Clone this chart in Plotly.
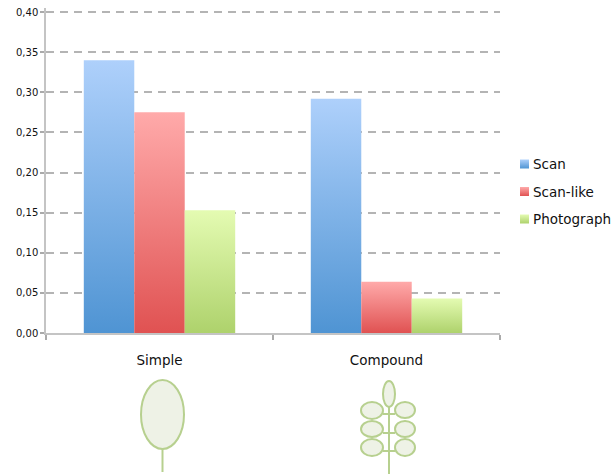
import plotly.graph_objects as go

categories = ["Simple", "Compound"]
scan = [0.340, 0.292]
scan_like = [0.275, 0.064]
photograph = [0.153, 0.043]
y_ticks = [0, 0.05, 0.10, 0.15, 0.20, 0.25, 0.30, 0.35, 0.40]

W, H = 611, 474
ML, MR, MT, MB = 46, 111, 8, 141
FONT = "DejaVu Sans"
LEAF_LINE = "#b7d08f"
LEAF_FILL = "#eef2e6"

fig = go.Figure()
for name, vals, col in [("Scan", scan, "#7fb0e6"), ("Scan-like", scan_like, "#f48080"),
                        ("Photograph", photograph, "#c8e68c")]:
    fig.add_bar(x=categories, y=vals, name=name, marker=dict(color=col, line=dict(width=0)))


def px(x):
    return (x - ML) / (W - ML - MR)


def py(y):
    return 1 - (y - MT) / (H - MT - MB)


def ell(x0, y0, x1, y1):
    return dict(type="circle", xref="paper", yref="paper", x0=px(x0), x1=px(x1), y0=py(y1), y1=py(y0),
                line=dict(color=LEAF_LINE, width=2), fillcolor=LEAF_FILL, layer="above")


def seg(x0, y0, x1, y1):
    return dict(type="line", xref="paper", yref="paper", x0=px(x0), x1=px(x1), y0=py(y0), y1=py(y1),
                line=dict(color=LEAF_LINE, width=2), layer="above")


shapes = [
    seg(162.5, 449, 162.5, 472), ell(141, 380, 184, 449),
    seg(389, 407, 389, 474),
    seg(383, 414, 395, 414), seg(383, 433, 395, 433), seg(383, 451, 395, 451),
    ell(383, 381, 395, 407),
    ell(361, 402, 383, 419), ell(361, 421, 383, 437), ell(361, 439, 383, 456),
    ell(395, 402, 415, 418), ell(395, 421, 415, 437), ell(395, 439, 415, 456),
]

fig.update_layout(
    width=W, height=H, autosize=False,
    margin=dict(l=ML, r=MR, t=MT, b=MB, pad=0, autoexpand=False),
    paper_bgcolor="white", plot_bgcolor="white",
    barmode="group", bargap=0.333, bargroupgap=0,
    separators=",.",
    font=dict(family=FONT, color="#111111", size=11),
    showlegend=True,
    legend=dict(x=0.4, xanchor="left", y=0.8, yanchor="top",
                font=dict(family=FONT, size=13.5, color="#111111"), bgcolor="rgba(0,0,0,0)",
                traceorder="normal"),
    shapes=shapes,
    xaxis=dict(type="category", tickson="boundaries", ticks="outside", ticklen=5, tickcolor="#aaaaaa",
               tickwidth=1.5, showline=True, linecolor="#c4c4c4", linewidth=1.5, showgrid=False,
               tickfont=dict(family=FONT, size=13.5, color="#111111"), ticklabelstandoff=14, zeroline=False),
    yaxis=dict(range=[0, 0.405], tickmode="array", tickvals=y_ticks, tickformat=".2f", ticks="outside", ticklen=4,
               tickcolor="#aaaaaa", tickwidth=1.5, showline=True, linecolor="#c4c4c4", linewidth=1.5,
               showgrid=True, gridcolor="#b4b4b4", gridwidth=1.5, griddash="8px,6px", zeroline=False,
               tickfont=dict(family=FONT, size=10, color="#111111")),
)

post = """
document.body.style.margin = '0';
document.body.style.overflow = 'hidden';
var gd = document.getElementById('{plot_id}');
var NS = 'http://www.w3.org/2000/svg';
var svg = gd.querySelector('.main-svg');
var defs = svg.querySelector('defs');
var stops = [['#aed0fb', '#4f94d3'], ['#ffaaaa', '#e05252'], ['#e4fbb2', '#aed26c']];
stops.forEach(function (s, i) {
  var g = document.createElementNS(NS, 'linearGradient');
  g.setAttribute('id', 'bargrad' + i);
  g.setAttribute('x1', '0'); g.setAttribute('y1', '0');
  g.setAttribute('x2', '0'); g.setAttribute('y2', '1');
  [[0, s[0]], [1, s[1]]].forEach(function (p) {
    var st = document.createElementNS(NS, 'stop');
    st.setAttribute('offset', p[0]); st.setAttribute('stop-color', p[1]);
    g.appendChild(st);
  });
  defs.appendChild(g);
});
gd.querySelectorAll('.barlayer .trace').forEach(function (t, i) {
  t.querySelectorAll('.point path').forEach(function (p) {
    p.style.setProperty('fill', 'url(#bargrad' + i + ')');
  });
});
var lg = gd.querySelector('.legend');
lg.setAttribute('transform', 'translate(504.5,149.5)');
var sb = gd.querySelector('.legend .scrollbox');
if (sb) sb.removeAttribute('clip-path');
lg.removeAttribute('clip-path');
gd.querySelectorAll('.legend .traces').forEach(function (t, i) {
  t.setAttribute('transform', 'translate(0,' + (14.5 + i * 27.5) + ')');
  t.querySelectorAll('.legendpoints path').forEach(function (p) {
    p.setAttribute('d', 'M4.5,4.5H-4.5V-4.5H4.5Z');
    p.style.setProperty('fill', 'url(#bargrad' + i + ')');
    p.style.setProperty('stroke-width', '0');
  });
  var tx = t.querySelector('.legendtext');
  if (tx) tx.setAttribute('x', '28.5');
});
"""

fig.write_html("out.html", post_script=post, config={"displayModeBar": False})
